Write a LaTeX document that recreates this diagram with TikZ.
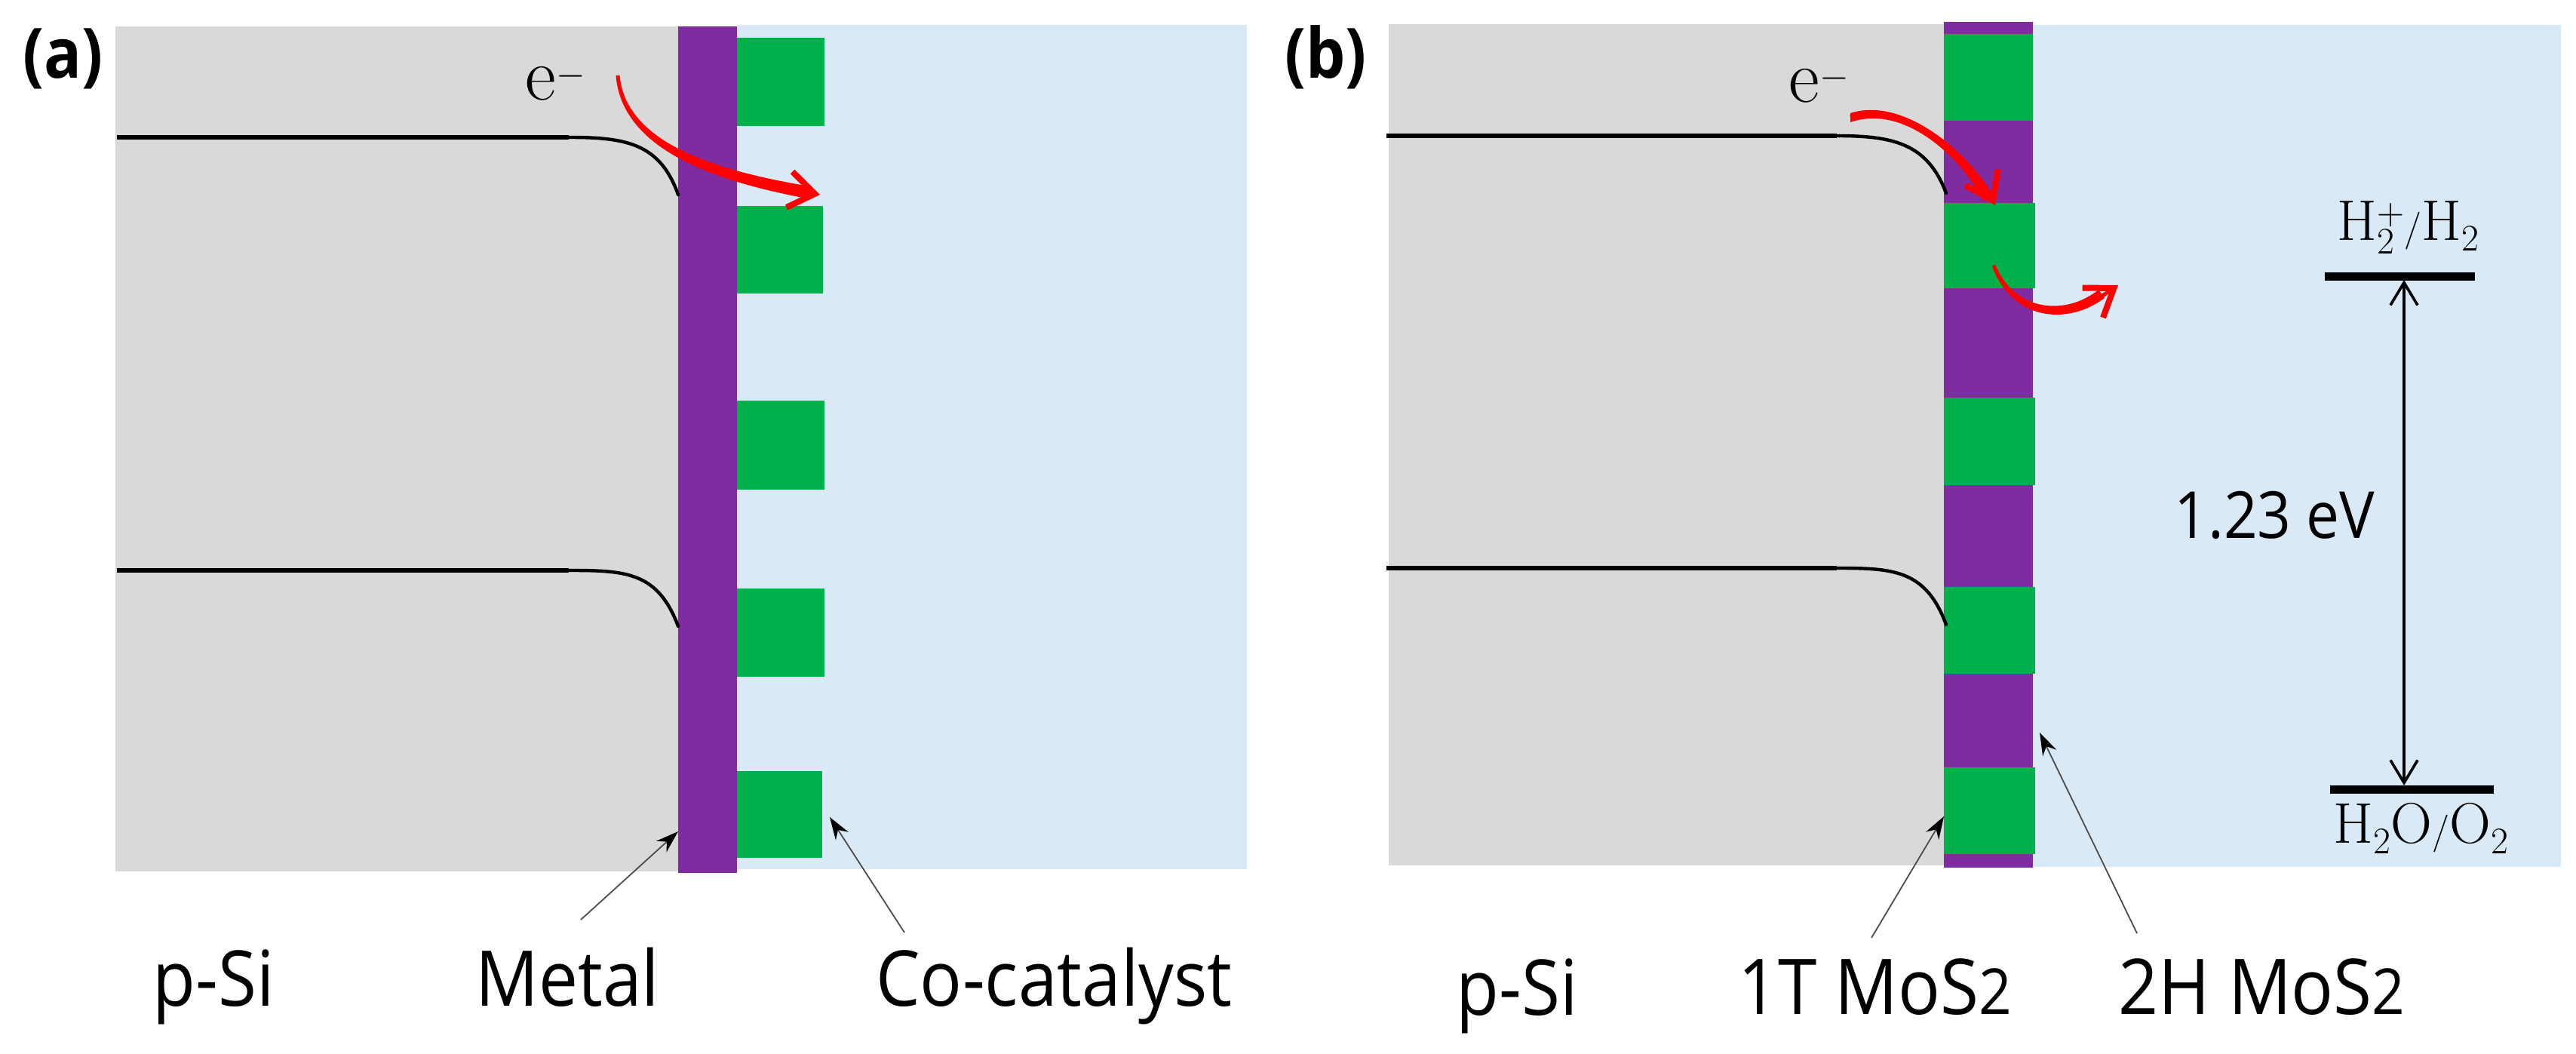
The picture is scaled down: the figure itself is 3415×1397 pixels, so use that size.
\documentclass[tikz,border=0pt]{standalone}
\usepackage{fontspec}
\usetikzlibrary{arrows.meta}
\newfontfamily\labfont[FakeStretch=0.91]{Open Sans}
\newfontfamily\tagfont[FakeStretch=0.9]{Open Sans}
\definecolor{siGray}{HTML}{D9D9D9}
\definecolor{waterBlue}{HTML}{DAE9F6}
\definecolor{metalPurple}{HTML}{7F2CA0}
\definecolor{catGreen}{HTML}{00B04A}
\newcommand{\subtwo}{{\fontsize{42}{50}\selectfont 2}}
\tikzset{
  x=0.5pt,y=-0.5pt,
  silicon/.style={fill=siGray},
  water/.style={fill=waterBlue},
  metal/.style={fill=metalPurple},
  catalyst/.style={fill=catGreen},
  band/.style={draw=black,line width=3pt},
  bandbend/.style={draw=black,line width=2.2pt,line cap=round},
  taper/.style={fill=red},
  flow/.style={draw=red,line width=2.5pt,-{Straight Barb[length=17pt,width=24pt,line width=4pt]}},
  pointer/.style={draw=black!70,line width=0.9pt,-{Stealth[length=15pt,width=10pt,black]}},
  gap/.style={draw=black,line width=1.8pt,{Straight Barb[length=15pt,width=18pt]}-{Straight Barb[length=15pt,width=18pt]}},
  level/.style={draw=black,line width=5.5pt},
  lab/.style={anchor=base west,inner sep=0pt,font=\labfont\fontsize{51}{60}\selectfont},
  smalllab/.style={anchor=base west,inner sep=0pt,font=\labfont\fontsize{43}{50}\selectfont},
  tag/.style={anchor=base west,inner sep=0pt,font=\tagfont\bfseries\fontsize{46}{54}\selectfont},
  mathlab/.style={anchor=base west,inner sep=0pt,font=\fontsize{50}{60}\selectfont},
  redox/.style={anchor=base west,inner sep=0pt,font=\fontsize{38}{46}\selectfont},
}
\begin{document}
\begin{tikzpicture}
\useasboundingbox (0,0) rectangle (3415,1397);
% panel a
\fill[water] (977,33) rectangle (1653,1152);
\fill[silicon] (153,35) rectangle (899,1155);
\fill[catalyst] (977,50) rectangle (1093,167);
\fill[catalyst] (977,273) rectangle (1091,389);
\fill[catalyst] (977,531) rectangle (1093,649);
\fill[catalyst] (977,780) rectangle (1093,897);
\fill[catalyst] (977,1022) rectangle (1090,1137);
\fill[metal] (899,35) rectangle (977,1157);
% panel b
\fill[water] (2695,33) rectangle (3395,1149);
\fill[silicon] (1841,32) rectangle (2577,1147);
\fill[metal] (2577,29) rectangle (2695,1150);
\fill[catalyst] (2577,45) rectangle (2695,160);
\fill[catalyst] (2577,269) rectangle (2698,382);
\fill[catalyst] (2577,527) rectangle (2698,643);
\fill[catalyst] (2577,778) rectangle (2698,893);
\fill[catalyst] (2577,1017) rectangle (2698,1132);
% band edges
\draw[band] (155,182) -- (754,182);
\draw[bandbend] (754,182) .. controls (830,182) and (875,190) .. (899,258);
\draw[band] (155,756) -- (754,756);
\draw[bandbend] (754,756) .. controls (830,756) and (872,758) .. (899,830);
\draw[band] (1838,180) -- (2435,180);
\draw[bandbend] (2435,180) .. controls (2510,180) and (2555,190) .. (2580,256);
\draw[band] (1838,753) -- (2435,753);
\draw[bandbend] (2435,753) .. controls (2510,753) and (2553,755) .. (2580,828);
% named ends
\coordinate (ra0) at (819,100); \coordinate (ra1) at (1087,258);
\coordinate (rb0) at (2453,155); \coordinate (rb1) at (2645,272);
\coordinate (rc0) at (2643,352); \coordinate (rc1) at (2808,378);
\coordinate (m0) at (770,1219); \coordinate (m1) at (899,1102);
\coordinate (c0) at (1199,1236); \coordinate (c1) at (1100,1083);
\coordinate (t0) at (2481,1243); \coordinate (t1) at (2577,1082);
\coordinate (h0) at (2833,1237); \coordinate (h1) at (2704,971);
\coordinate (lvlA0) at (3082,366); \coordinate (lvlA1) at (3281,366);
\coordinate (lvlB0) at (3089,1046); \coordinate (lvlB1) at (3306,1046);
\coordinate (gapT) at (3187,371); \coordinate (gapB) at (3187,1041);
% tapered red shafts
\fill[taper] (817,100) .. controls (822,172) and (890,230) .. (1070,263) -- (1074,247) .. controls (895,218) and (829,168) .. (821,100) -- cycle;
\fill[taper] (2453,150) .. controls (2530,125) and (2625,218) .. (2640,262) -- (2628,266) .. controls (2610,222) and (2530,135) .. (2453,162) -- cycle;
\fill[taper] (2641,353) .. controls (2668,425) and (2740,432) .. (2790,395) -- (2782,384) .. controls (2740,418) and (2672,415) .. (2645,351) -- cycle;
\draw[flow] (ra0) .. controls (825,170) and (890,225) .. (ra1);
\draw[flow] (rb0) .. controls (2530,130) and (2620,220) .. (rb1);
\draw[flow] (rc0) .. controls (2670,420) and (2740,425) .. (rc1);
% pointers
\draw[pointer] (m0) -- (m1);
\draw[pointer] (c0) -- (c1);
\draw[pointer] (t0) -- (t1);
\draw[pointer] (h0) -- (h1);
% levels
\draw[level] (lvlA0) -- (lvlA1);
\draw[level] (lvlB0) -- (lvlB1);
\draw[gap] (gapT) -- (gapB);
% labels
\node[tag] (tagA) at (30,103) {(a)};
\node[tag] (tagB) at (1703,103) {(b)};
\node[mathlab] (eA) at (696,132) {$\mathrm{e}^{-}$};
\node[mathlab] (eB) at (2371,135) {$\mathrm{e}^{-}$};
\node[lab] (siA) at (202,1333) {p-Si};
\node[lab] (metalLab) at (630,1333) {Metal};
\node[lab] (coLab) at (1161,1333) {Co-catalyst};
\node[lab] (siB) at (1930,1345) {p-Si};
\node[lab] (tLab) at (2304,1344) {1T MoS\subtwo};
\node[lab] (hLab) at (2808,1344) {2H MoS\subtwo};
\node[smalllab] (gapLab) at (2882,713) {1.23 eV};
\node[redox] (hplus) at (3098,318) {$\mathrm{H}_2^{+}/\mathrm{H}_2$};
\node[redox] (hwater) at (3093,1117) {$\mathrm{H}_2\mathrm{O}/\mathrm{O}_2$};
\end{tikzpicture}
\end{document}
